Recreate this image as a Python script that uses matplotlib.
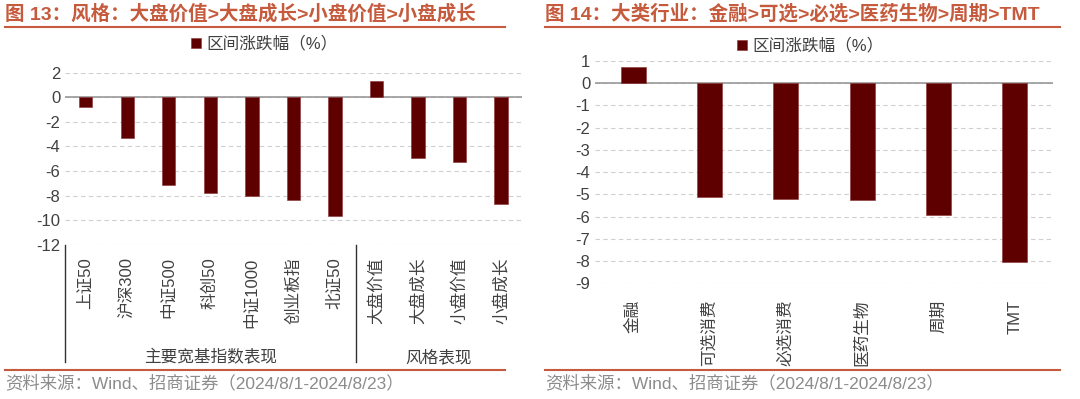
# 图13 / 图14：区间涨跌幅柱状图
import numpy as np
import matplotlib.pyplot as plt
from matplotlib.lines import Line2D

plt.rcParams['font.family'] = ['Liberation Sans', 'Noto Sans CJK SC', 'DejaVu Sans']
plt.rcParams['axes.unicode_minus'] = False

# 数据
left_labels = ['上证50', '沪深300', '中证500', '科创50', '中证1000', '创业板指', '北证50',
               '大盘价值', '大盘成长', '小盘价值', '小盘成长']
left_values = [-0.81, -3.33, -7.13, -7.75, -8.02, -8.35, -9.65, 1.32, -4.96, -5.29, -8.70]
left_groups = ['主要宽基指数表现', '风格表现']
left_group_sizes = [7, 4]

right_labels = ['金融', '可选消费', '必选消费', '医药生物', '周期', 'TMT']
right_values = [0.72, -5.10, -5.22, -5.25, -5.94, -8.04]

legend_name = '区间涨跌幅（%）'
title_left = '图 13：风格：大盘价值>大盘成长>小盘价值>小盘成长'
title_right = '图 14：大类行业：金融>可选>必选>医药生物>周期>TMT'
source = '资料来源：Wind、招商证券（2024/8/1-2024/8/23）'

bar_color = '#5e0000'
title_color = '#c55a3c'
text_color = '#404040'

fig = plt.figure(figsize=(10.8, 3.99), dpi=100)


def style_axes(ax, ticks):
    ax.set_yticks(ticks)
    ax.set_ylim(ticks[0], ticks[-1])
    for s in ax.spines.values():
        s.set_visible(False)
    ax.tick_params(axis='both', length=0, colors=text_color, labelsize=12)
    ax.yaxis.grid(True, linestyle=(0, (4, 3)), color='#cfcfcf', linewidth=0.8)
    ax.set_axisbelow(True)
    ax.axhline(0, color='#999999', linewidth=1.2, zorder=1)


# 左图
axL = fig.add_axes([0.0602, 0.386, 0.423, 0.432])
xL = np.arange(len(left_labels))
axL.bar(xL, left_values, width=0.32, color=bar_color, edgecolor='#8a3030',
        linewidth=0.4, label=legend_name, zorder=2)
style_axes(axL, np.arange(-12, 3, 2))
axL.set_xlim(-0.5, len(left_labels) - 0.5)
axL.set_xticks(xL)
axL.set_xticklabels(left_labels, rotation=90, fontsize=12)
axL.tick_params(axis='x', pad=9)

# 分组分隔线与分组名称
trans = axL.get_xaxis_transform()
start = 0
edges = [-0.5]
for name, n in zip(left_groups, left_group_sizes):
    mid = start + (n - 1) / 2
    axL.text(mid, -0.65, name, transform=trans, ha='center', va='center',
             fontsize=12, color=text_color)
    start += n
    edges.append(start - 0.5)
for e in edges[:-1]:
    axL.add_line(Line2D([e, e], [0, -0.679], transform=trans, color='#333333',
                        linewidth=1.0, clip_on=False))

# 右图
axR = fig.add_axes([0.551, 0.290, 0.424, 0.557])
xR = np.arange(len(right_labels))
axR.bar(xR, right_values, width=0.33, color=bar_color, edgecolor='#8a3030',
        linewidth=0.4, label=legend_name, zorder=2)
style_axes(axR, np.arange(-9, 2, 1))
axR.set_xlim(-0.5, len(right_labels) - 0.5)
axR.set_xticks(xR)
axR.set_xticklabels(right_labels, rotation=90, fontsize=12)
axR.tick_params(axis='x', pad=12)

# 图例
for ax, cx, cy in [(axL, 0.245, 0.89), (axR, 0.75, 0.885)]:
    ax.legend(loc='center', bbox_to_anchor=(cx, cy), bbox_transform=fig.transFigure,
              frameon=False, fontsize=12, handlelength=0.6, handleheight=0.6,
              handletextpad=0.3, labelcolor=text_color)

# 标题、分隔线、资料来源
for x0, x1, title in [(5, 505, title_left), (545, 1060, title_right)]:
    fig.text(x0 / 1080, 0.965, title, fontsize=14, fontweight='bold',
             color=title_color, va='center', ha='left')
    fig.add_artist(Line2D([x0 / 1080, x1 / 1080], [0.932, 0.932], color=title_color,
                          linewidth=1.5))
    fig.add_artist(Line2D([x0 / 1080, x1 / 1080], [0.0727, 0.0727], color=title_color,
                          linewidth=1.5))
    fig.text(x0 / 1080, 0.040, source, fontsize=12.5, color='#8c8c8c',
             va='center', ha='left')

fig.savefig('out.png', dpi=100)
